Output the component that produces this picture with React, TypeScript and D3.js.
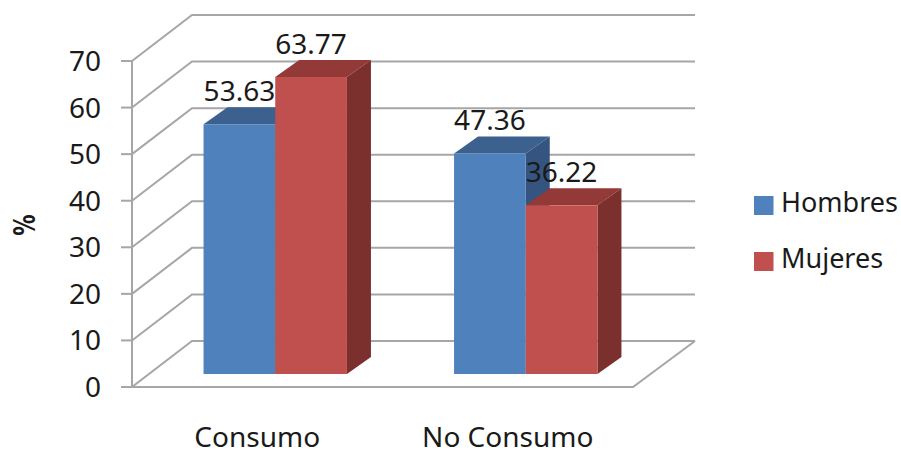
import React from "react";
import * as d3 from "d3";

const categories = ["Consumo", "No Consumo"];
const seriesNames = ["Hombres", "Mujeres"];
const hombres = [53.63, 47.36];
const mujeres = [63.77, 36.22];
const yTicks = [0, 10, 20, 30, 40, 50, 60, 70];

const frontColors = ["#4f81bd", "#c0504d"];
const topColors = ["#3d618f", "#933a38"];
const sideColors = ["#355580", "#7b302e"];
const gridColor = "#a6a6a6";
const textColor = "#1a1a1a";
const fontFamily = "'Noto Sans', sans-serif";

// Oblique projection of the chart box
const wallDx = 60;
const wallDy = 46;
const barDepthDx = 24;
const barDepthDy = 17;
const barInsetDx = 18;
const barInsetDy = 13;

const y = d3.scaleLinear().domain([0, 70]).range([387, 61]);
const xBand = d3.scaleBand<string>().domain(categories).range([132, 633]);
const barWidth = 71.7;

const poly = (pts: [number, number][]) => d3.line()(pts) + "Z";

type Bar = { cat: string; series: number; value: number };
const bars: Bar[] = categories.flatMap((cat, i) => [
  { cat, series: 0, value: hombres[i] },
  { cat, series: 1, value: mujeres[i] },
]);

const barLeft = (b: Bar) =>
  (xBand(b.cat) as number) + xBand.bandwidth() / 2 + barInsetDx + (b.series - 1) * barWidth;
const barTop = (b: Bar) => y(b.value) - barInsetDy;
const barBase = () => y(0) - barInsetDy;

export default function App() {
  const x0 = xBand.range()[0];
  const x1 = xBand.range()[1];
  return (
    <svg
      width={901}
      height={450}
      style={{ position: "absolute", left: 0, top: 0, background: "#fff" }}
      fontFamily={fontFamily}
    >
      {/* Back wall grid and side wall diagonals */}
      <g stroke={gridColor} strokeWidth={2} fill="none">
        {yTicks.map((t) => (
          <path
            key={t}
            d={poly([
              [x0, y(t)],
              [x0 + wallDx, y(t) - wallDy],
              [x1 + wallDx + 2, y(t) - wallDy],
            ]).replace("Z", "")}
          />
        ))}
        <path d={`M${x0},${y(0)}V${y(70)}`} />
        <path
          d={`M${x0 - 11},${y(0)}H${x1}L${x1 + wallDx + 2},${y(0) - wallDy}`}
        />
        {yTicks.map((t) => (
          <path key={t} d={`M${x0 - 11},${y(t)}H${x0}`} />
        ))}
      </g>

      {/* Axis labels */}
      <g fontSize={28} fill={textColor}>
        {yTicks.map((t) => (
          <text key={t} x={101} y={y(t) + 10} textAnchor="end">
            {t}
          </text>
        ))}
        {categories.map((c) => (
          <text
            key={c}
            x={(xBand(c) as number) + xBand.bandwidth() / 2}
            y={447}
            textAnchor="middle"
          >
            {c}
          </text>
        ))}
      </g>
      <text
        transform="translate(35,225) rotate(-90) scale(0.82,1.16)"
        textAnchor="middle"
        fontSize={26}
        fontWeight="bold"
        fontFamily="'DejaVu Sans', sans-serif"
        fill={textColor}
      >
        %
      </text>

      {/* Bar tops and side faces */}
      {bars.map((b) => {
        const l = barLeft(b);
        const r = l + barWidth;
        const t = barTop(b);
        return (
          <g key={`${b.cat}-${b.series}-depth`}>
            <path
              d={poly([
                [l, t],
                [l + barDepthDx, t - barDepthDy],
                [r + barDepthDx, t - barDepthDy],
                [r, t],
              ])}
              fill={topColors[b.series]}
            />
            <path
              d={poly([
                [r, t],
                [r + barDepthDx, t - barDepthDy],
                [r + barDepthDx, barBase() - barDepthDy],
                [r, barBase()],
              ])}
              fill={sideColors[b.series]}
            />
          </g>
        );
      })}

      {/* Value labels sit in front of the depth faces, behind the front faces */}
      <g fontSize={28} fill={textColor} textAnchor="middle">
        {bars.map((b) => (
          <text
            key={`${b.cat}-${b.series}-label`}
            x={barLeft(b) + barWidth / 2}
            y={barTop(b) - 23}
          >
            {b.value.toFixed(2)}
          </text>
        ))}
      </g>

      {/* Front faces */}
      {bars.map((b) => (
        <rect
          key={`${b.cat}-${b.series}-front`}
          x={barLeft(b)}
          y={barTop(b)}
          width={barWidth}
          height={barBase() - barTop(b)}
          fill={frontColors[b.series]}
        />
      ))}

      {/* Legend */}
      {seriesNames.map((name, i) => (
        <g key={name} transform={`translate(754,${196 + i * 56})`}>
          <rect width={19.5} height={19} fill={frontColors[i]} />
          <text x={27} y={16} fontSize={27} fill={textColor}>
            {name}
          </text>
        </g>
      ))}
    </svg>
  );
}
